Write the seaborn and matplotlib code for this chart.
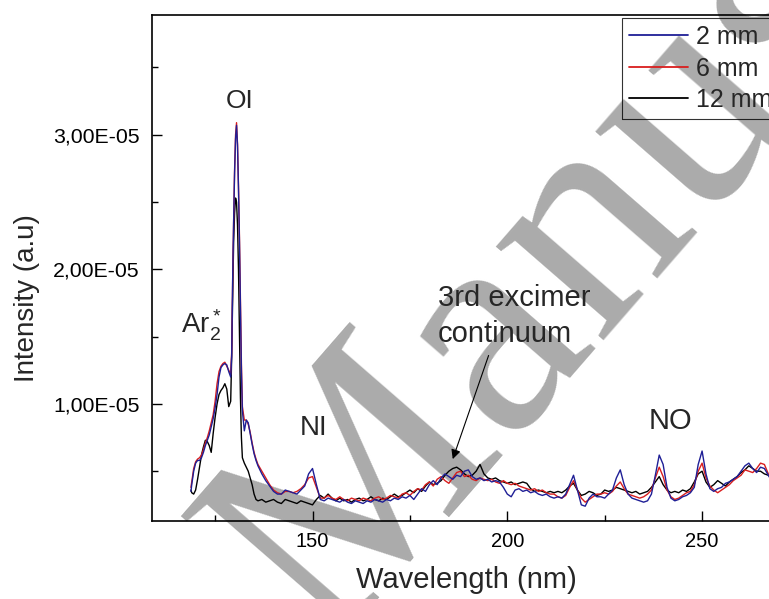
import matplotlib
matplotlib.use("Agg")
import matplotlib.pyplot as plt
from matplotlib.ticker import MultipleLocator, FuncFormatter
import numpy as np
import pandas as pd
import seaborn as sns

# ---- data (intensity in units of 1e-5 a.u.) ----
wl_head = [118.8, 119, 119.5, 120, 120.5, 121, 121.5, 122, 122.5, 123,
           123.5, 124, 124.5, 125, 125.5, 126, 126.5, 127, 127.5, 128,
           128.5, 129, 129.25, 129.5, 129.75, 130, 130.25, 130.5, 130.75, 131,
           131.25, 131.5, 131.75, 132, 132.5, 133, 133.5, 134, 134.5, 135,
           135.5, 136]
wl_tail = [137, 138, 139, 140, 141, 142, 143, 144, 145, 146,
           147, 148, 149, 150, 151, 152, 153, 154, 155, 156,
           157, 158, 159, 160, 161, 162, 163, 164, 165, 166,
           167, 168, 169, 170, 171, 172, 173, 174, 175, 176,
           177, 178, 179, 180, 181, 182, 183, 184, 185, 186,
           187, 188, 189, 190, 191, 192, 193, 194, 195, 196,
           197, 198, 199, 200, 201, 202, 203, 204, 205, 206,
           207, 208, 209, 210, 211, 212, 213, 214, 215, 216,
           217, 218, 219, 220, 221, 222, 223, 224, 225, 226,
           227, 228, 229, 230, 231, 232, 233, 234, 235, 236,
           237, 238, 239, 240, 241, 242, 243, 244, 245, 246,
           247, 248, 249, 250, 251, 252, 253, 254, 255, 256,
           257, 258, 259, 260, 261, 262, 263, 264, 265, 266,
           267, 268]

int_2mm = [0.35, 0.40, 0.50, 0.56, 0.58, 0.58, 0.60, 0.64, 0.69, 0.73,
           0.77, 0.83, 0.89, 0.97, 1.07, 1.20, 1.27, 1.29, 1.30, 1.29,
           1.24, 1.20, 1.35, 1.92, 2.35, 2.72, 2.97, 3.07, 2.92, 2.60,
           2.20, 1.70, 1.25, 0.95, 0.80, 0.88, 0.86, 0.78, 0.70, 0.63,
           0.58, 0.54,
           0.48, 0.43, 0.39, 0.35, 0.33, 0.33, 0.36, 0.35, 0.34, 0.33,
           0.36, 0.39, 0.48, 0.52, 0.40, 0.29, 0.28, 0.30, 0.29, 0.28,
           0.27, 0.29, 0.27, 0.26, 0.28, 0.27, 0.26, 0.28, 0.27, 0.29,
           0.28, 0.27, 0.29, 0.28, 0.30, 0.29, 0.31, 0.30, 0.32, 0.29,
           0.33, 0.37, 0.35, 0.40, 0.43, 0.40, 0.45, 0.48, 0.46, 0.44,
           0.47, 0.46, 0.50, 0.51, 0.46, 0.44, 0.45, 0.43, 0.44, 0.42,
           0.43, 0.42, 0.38, 0.33, 0.31, 0.36, 0.37, 0.35, 0.36, 0.34,
           0.35, 0.33, 0.32, 0.33, 0.31, 0.30, 0.31, 0.30, 0.33, 0.40,
           0.47, 0.36, 0.25, 0.24, 0.30, 0.33, 0.31, 0.31, 0.30, 0.33,
           0.36, 0.45, 0.51, 0.40, 0.33, 0.30, 0.29, 0.28, 0.27, 0.28,
           0.33, 0.47, 0.62, 0.55, 0.38, 0.30, 0.28, 0.29, 0.31, 0.32,
           0.34, 0.38, 0.55, 0.65, 0.48, 0.37, 0.35, 0.37, 0.38, 0.41,
           0.42, 0.44, 0.46, 0.50, 0.54, 0.56, 0.52, 0.49, 0.53, 0.52,
           0.47, 0.42]

int_6mm = [0.38, 0.42, 0.52, 0.57, 0.59, 0.60, 0.62, 0.66, 0.71, 0.75,
           0.80, 0.86, 0.92, 1.02, 1.15, 1.24, 1.28, 1.30, 1.31, 1.28,
           1.25, 1.22, 1.38, 1.90, 2.35, 2.74, 3.00, 3.09, 2.93, 2.62,
           2.24, 1.75, 1.30, 0.98, 0.88, 0.88, 0.85, 0.79, 0.71, 0.64,
           0.59, 0.55,
           0.50, 0.45, 0.40, 0.36, 0.34, 0.33, 0.35, 0.35, 0.34, 0.35,
           0.37, 0.40, 0.45, 0.46, 0.38, 0.30, 0.30, 0.32, 0.30, 0.29,
           0.31, 0.29, 0.28, 0.30, 0.29, 0.28, 0.30, 0.29, 0.28, 0.30,
           0.31, 0.29, 0.30, 0.32, 0.31, 0.30, 0.33, 0.34, 0.32, 0.35,
           0.37, 0.36, 0.40, 0.42, 0.39, 0.44, 0.46, 0.43, 0.41, 0.45,
           0.49, 0.50, 0.46, 0.47, 0.44, 0.43, 0.45, 0.44, 0.43, 0.44,
           0.42, 0.41, 0.43, 0.41, 0.40, 0.41, 0.39, 0.38, 0.37, 0.36,
           0.37, 0.35, 0.36, 0.34, 0.33, 0.33, 0.31, 0.30, 0.32, 0.38,
           0.43, 0.36, 0.30, 0.27, 0.29, 0.31, 0.33, 0.33, 0.34, 0.33,
           0.35, 0.39, 0.42, 0.37, 0.33, 0.32, 0.31, 0.30, 0.31, 0.33,
           0.36, 0.45, 0.53, 0.46, 0.36, 0.31, 0.29, 0.30, 0.32, 0.34,
           0.35, 0.40, 0.50, 0.56, 0.45, 0.39, 0.36, 0.34, 0.36, 0.38,
           0.40, 0.43, 0.45, 0.47, 0.51, 0.50, 0.49, 0.52, 0.56, 0.55,
           0.48, 0.44]

int_12mm = [0.36, 0.34, 0.33, 0.36, 0.44, 0.53, 0.62, 0.68, 0.73, 0.72,
            0.69, 0.64, 0.78, 0.90, 1.00, 1.07, 1.10, 1.12, 1.15, 1.11,
            0.98, 1.02, 1.35, 1.78, 2.20, 2.42, 2.53, 2.50, 2.33, 2.00,
            1.50, 1.05, 0.75, 0.60, 0.56, 0.53, 0.50, 0.45, 0.40, 0.33,
            0.29, 0.28,
            0.29, 0.27, 0.28, 0.29, 0.27, 0.26, 0.29, 0.28, 0.27, 0.26,
            0.28, 0.27, 0.26, 0.25, 0.29, 0.32, 0.30, 0.33, 0.30, 0.28,
            0.30, 0.28, 0.29, 0.27, 0.29, 0.30, 0.28, 0.29, 0.31, 0.29,
            0.28, 0.30, 0.29, 0.31, 0.33, 0.31, 0.32, 0.34, 0.36, 0.34,
            0.37, 0.35, 0.39, 0.42, 0.40, 0.41, 0.43, 0.47, 0.50, 0.52,
            0.53, 0.51, 0.48, 0.46, 0.47, 0.50, 0.55, 0.48, 0.45, 0.44,
            0.45, 0.43, 0.42, 0.41, 0.42, 0.40, 0.41, 0.42, 0.41, 0.37,
            0.35, 0.36, 0.35, 0.34, 0.35, 0.34, 0.35, 0.34, 0.36, 0.39,
            0.41, 0.36, 0.32, 0.33, 0.35, 0.34, 0.32, 0.33, 0.36, 0.35,
            0.36, 0.38, 0.37, 0.36, 0.35, 0.34, 0.35, 0.33, 0.34, 0.35,
            0.38, 0.42, 0.46, 0.40, 0.36, 0.34, 0.35, 0.34, 0.36, 0.35,
            0.37, 0.42, 0.48, 0.50, 0.42, 0.38, 0.40, 0.43, 0.41, 0.39,
            0.42, 0.44, 0.46, 0.49, 0.51, 0.54, 0.52, 0.50, 0.50, 0.48,
            0.47, 0.45]

gap_labels = ["2 mm", "6 mm", "12 mm"]
line_colors = ["#1f1f96", "#d91e1e", "#000000"]
UNIT = 1e-5

wavelength = wl_head + wl_tail
frames = []
for lab, vals in zip(gap_labels, [int_2mm, int_6mm, int_12mm]):
    frames.append(pd.DataFrame({"Wavelength": wavelength,
                                "Intensity": np.asarray(vals) * UNIT,
                                "Gap": lab}))
df = pd.concat(frames, ignore_index=True)

# ---- style ----
sns.set_theme(style="ticks")
plt.rcParams["font.family"] = ["Liberation Sans", "DejaVu Sans"]
plt.rcParams["mathtext.fontset"] = "custom"
plt.rcParams["mathtext.rm"] = "Liberation Sans"
plt.rcParams["mathtext.it"] = "Liberation Sans:italic"
plt.rcParams["mathtext.default"] = "regular"

fig = plt.figure(figsize=(7.69, 5.99), dpi=100)
fig.patch.set_facecolor("white")
W, H = 769, 599
ax = fig.add_axes([152 / W, 1 - 521 / H, 628 / W, 506 / H])
ax.patch.set_visible(False)

# background stamp, drawn under the axes
fig.text(325 / W, 1 - 650 / H, "Manuscript", rotation=49, rotation_mode="anchor",
         ha="left", va="baseline", fontsize=223, family="Liberation Serif",
         color="#ababab", zorder=-5)

sns.lineplot(data=df, x="Wavelength", y="Intensity", hue="Gap",
             hue_order=gap_labels, palette=line_colors, estimator=None,
             sort=False, linewidth=1.0, ax=ax)
for line, z in zip(ax.get_lines()[:3], [2.3, 2.2, 2.1]):
    line.set_zorder(z)

ax.set_xlim(108.8, 270)
ax.set_ylim(0.13e-5, 3.89e-5)
ax.xaxis.set_major_locator(MultipleLocator(50))
ax.xaxis.set_minor_locator(MultipleLocator(25))
ax.yaxis.set_major_locator(MultipleLocator(1e-5))
ax.yaxis.set_minor_locator(MultipleLocator(0.5e-5))
ax.yaxis.set_major_formatter(FuncFormatter(lambda v, p: f"{v:.2E}".replace(".", ",")))
ax.tick_params(which="both", direction="in", top=False, right=False,
               colors="black", width=1.0)
ax.tick_params(axis="x", labelsize=14.5, pad=8)
ax.tick_params(axis="y", labelsize=15.3, pad=9)
ax.tick_params(which="major", length=7)
ax.tick_params(which="minor", length=4)
for s in ax.spines.values():
    s.set_color("black")
    s.set_linewidth(1.2)

ax.set_xlabel("Wavelength (nm)", fontsize=21, va="baseline")
ax.xaxis.set_label_coords(0.5, (521 - 588) / 506)
ax.set_ylabel("Intensity (a.u)", fontsize=20, va="center")
ax.yaxis.set_label_coords((27 - 152) / 628, (521 - 298) / 506)

# peak labels
ax.text(131.36, 3.20e-5, "OI", fontsize=19, ha="center", va="baseline")
ax.text(116.3, 1.52e-5, r"Ar$_2^*$", fontsize=20, ha="left", va="baseline")
ax.text(150.26, 0.77e-5, "NI", fontsize=20, ha="center", va="baseline")
ax.text(242.0, 0.814e-5, "NO", fontsize=21, ha="center", va="baseline")
ax.text(182.1, 1.73e-5, "3rd excimer", fontsize=21, ha="left", va="baseline")
ax.text(182.1, 1.46e-5, "continuum", fontsize=21, ha="left", va="baseline")
ax.annotate("", xy=(186.0, 0.59e-5), xytext=(195.2, 1.36e-5),
            arrowprops=dict(arrowstyle="-|>", color="black", lw=0.8,
                            mutation_scale=14, shrinkA=0, shrinkB=0))

handles, labels = ax.get_legend_handles_labels()
leg = ax.legend(handles, labels, loc="upper left",
                bbox_to_anchor=(622 / W, 1 - 18 / H), bbox_transform=fig.transFigure,
                borderaxespad=0, fontsize=18, frameon=True, fancybox=False,
                handlelength=2.36, handletextpad=0.32, borderpad=0.28,
                labelspacing=0.3)
leg.get_frame().set_edgecolor("black")
leg.get_frame().set_facecolor("none")
leg.get_frame().set_linewidth(0.8)
for h in leg.get_lines():
    h.set_linewidth(1.3)

fig.savefig("out.png", dpi=100)
